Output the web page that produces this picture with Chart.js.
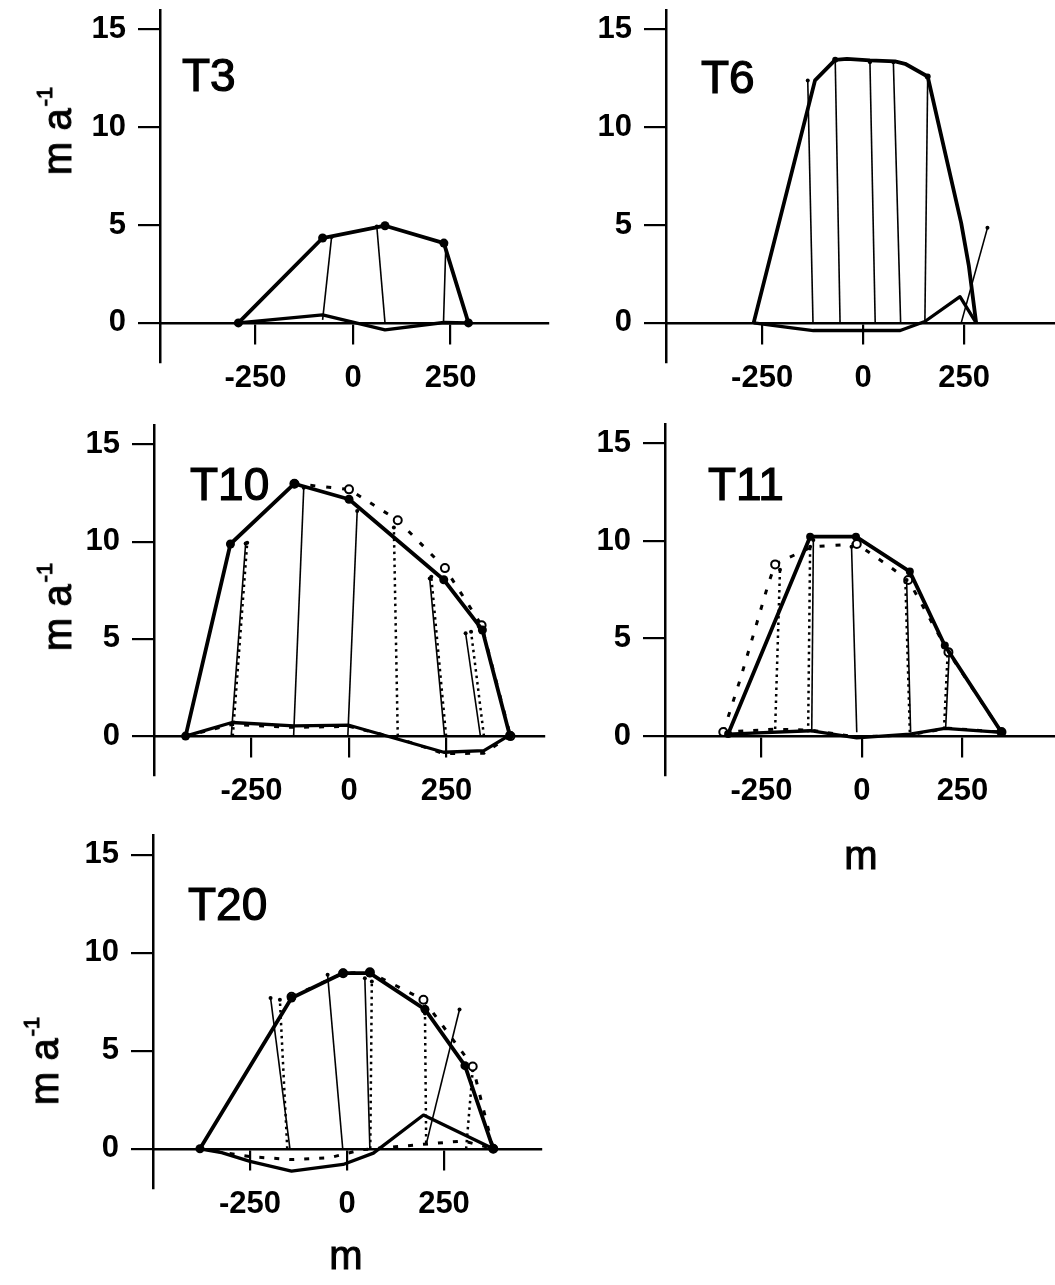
<!DOCTYPE html>
<html><head><meta charset="utf-8">
<script src="https://cdn.jsdelivr.net/npm/chart.js@4.4.1/dist/chart.umd.min.js"></script>
<style>
html,body{margin:0;padding:0;background:#fff;width:1055px;height:1285px;overflow:hidden;position:relative;}
canvas{position:absolute;}
.lbl{position:absolute;font-family:"Liberation Sans",Arial,sans-serif;color:#000;white-space:nowrap;line-height:1;}
.title{font-size:46px;-webkit-text-stroke:1.2px #000;}
.ylab{font-size:40px;-webkit-text-stroke:1px #000;transform:translate(-50%,-50%) rotate(-90deg);}
.xlab{font-size:40px;-webkit-text-stroke:1px #000;transform:translate(-50%,-50%);}
.sup{font-size:0.55em;position:relative;top:-0.85em;margin-left:2px;}
</style>
</head><body>
<canvas id="c3"></canvas><canvas id="c6"></canvas><canvas id="c10"></canvas><canvas id="c11"></canvas><canvas id="c20"></canvas>
<div class="lbl title" style="left:182px;top:52px">T3</div>
<div class="lbl title" style="left:701px;top:54px">T6</div>
<div class="lbl title" style="left:190px;top:461px">T10</div>
<div class="lbl title" style="left:708px;top:461px">T11</div>
<div class="lbl title" style="left:188px;top:881px">T20</div>
<div class="lbl ylab" style="left:57px;top:131px">m a<span class="sup">-1</span></div>
<div class="lbl ylab" style="left:57px;top:607px">m a<span class="sup">-1</span></div>
<div class="lbl ylab" style="left:44px;top:1061px">m a<span class="sup">-1</span></div>
<div class="lbl xlab" style="left:861px;top:855px">m</div>
<div class="lbl xlab" style="left:346px;top:1255px">m</div>
<script>
// ---------- tick values ----------
const yTickValues = [0, 5, 10, 15];
const xTickValues = [-250, 0, 250];

// ---------- T3 ----------
const t3SurfX = [-294, -78, 82, 233, 296];
const t3SurfY = [0, 4.34, 4.97, 4.08, 0];
const t3BedX = [-294, -78, 82, 233, 296];
const t3BedY = [0, 0.41, -0.36, 0.02, 0];
const t3VecX0 = [-78, 82, 232];
const t3VecY0 = [0.15, 0, 0];
const t3VecX1 = [-55, 61, 238];
const t3VecY1 = [4.39, 4.93, 4.0];

// ---------- T6 ----------
const t6SurfX = [-271, -119, -69, -40, 17, 79, 104, 160, 243, 262, 280];
const t6SurfY = [0, 12.4, 13.45, 13.5, 13.42, 13.37, 13.25, 12.6, 5.1, 2.9, 0];
const t6SurfMark = [0, 0, 1, 0, 0, 0, 0, 1, 0, 0, 0];
const t6BedX = [-271, -172, -123, 92, 153, 240, 280];
const t6BedY = [0, -0.27, -0.39, -0.39, 0.07, 1.34, 0];
const t6VecX0 = [-124, -57, 30, 93, 153, 243];
const t6VecY0 = [0, 0, 0, 0, 0, 0];
const t6VecX1 = [-137, -69, 17, 75, 160, 308];
const t6VecY1 = [12.4, 13.45, 13.33, 13.33, 12.6, 4.86];

// ---------- T10 ----------
const t10SurfX = [-419, -304, -140, 0, 243, 342, 412];
const t10SurfY = [0, 9.88, 12.98, 12.18, 8.04, 5.46, 0.05];
const t10Surf2X = [-140, 0, 125, 246, 340, 414];
const t10Surf2Y = [12.98, 12.69, 11.1, 8.64, 5.7, 0];
const t10BedX = [-419, -300, -141, 0, 124, 243, 346, 412];
const t10BedY = [0, 0.7, 0.53, 0.56, -0.15, -0.83, -0.75, 0.05];
const t10Bed2X = [-419, -300, -141, 0, 124, 243, 346, 412];
const t10Bed2Y = [0, 0.6, 0.45, 0.5, -0.1, -0.9, -0.88, 0];
const t10VecX0 = [-302, -142, -3, 245, 337];
const t10VecY0 = [0, 0, 0, 0, 0];
const t10VecX1 = [-265, -116, 21, 207, 299];
const t10VecY1 = [9.91, 12.77, 11.58, 8.1, 5.29];
const t10Vec2X0 = [-298, 125, 249, 346];
const t10Vec2Y0 = [0, 0, 0, 0];
const t10Vec2X1 = [-261, 115, 211, 313];
const t10Vec2Y1 = [9.95, 10.73, 8.2, 5.37];

// ---------- T11 ----------
const t11SurfX = [-333, -129, -15, 119, 206, 347];
const t11SurfY = [0.1, 10.22, 10.22, 8.43, 4.64, 0.19];
const t11Surf2X = [-345, -303, -270, -233, -216, -187, -125, -13, 61, 115, 215, 347];
const t11Surf2Y = [0.2, 2.9, 5.2, 7.8, 8.8, 9.1, 9.7, 9.85, 8.8, 8.0, 4.3, 0.2];
const t11Surf2Mark = [1, 0, 0, 0, 1, 0, 0, 1, 0, 1, 1, 1];
const t11BedX = [-333, -129, -13, 119, 206, 347];
const t11BedY = [0.1, 0.27, -0.1, 0.1, 0.39, 0.19];
const t11Bed2X = [-345, -216, -125, -13, 115, 215, 347];
const t11Bed2Y = [0.2, 0.35, 0.3, -0.05, 0.05, 0.4, 0.2];
const t11VecX0 = [-125, -13, 121, 208];
const t11VecY0 = [0.19, 0.19, 0.19, 0.36];
const t11VecX1 = [-121, -26, 111, 217];
const t11VecY1 = [10.05, 9.71, 8.0, 4.3];
const t11Vec2X0 = [-216, -134, 119, 204];
const t11Vec2Y0 = [0.36, 0.19, 0.19, 0.36];
const t11Vec2X1 = [-204, -129, 108, 213];
const t11Vec2Y1 = [8.52, 9.7, 7.9, 4.2];

// ---------- T20 ----------
const t20SurfX = [-379, -143, -10, 59, 201, 304, 377];
const t20SurfY = [0, 7.69, 8.96, 8.96, 7.11, 4.24, 0];
const t20Surf2X = [-143, -10, 59, 197, 324, 377];
const t20Surf2Y = [7.75, 8.95, 9.0, 7.6, 4.2, 0];
const t20BedX = [-379, -323, -250, -143, -10, 68, 197, 377];
const t20BedY = [0, -0.2, -0.64, -1.14, -0.8, -0.22, 1.72, 0];
const t20Bed2X = [-379, -250, -143, -44, 38, 124, 210, 300, 377];
const t20Bed2Y = [0, -0.4, -0.55, -0.45, -0.05, 0.1, 0.25, 0.4, 0];
const t20VecX0 = [-147, -11, 59, 205];
const t20VecY0 = [0, 0, 0, 0.3];
const t20VecX1 = [-197, -50, 46, 290];
const t20VecY1 = [7.69, 8.88, 8.7, 7.1];
const t20Vec2X0 = [-154, 60, 204, 307];
const t20Vec2Y0 = [0, 0, 0.3, 0];
const t20Vec2X1 = [-173, 64, 201, 324];
const t20Vec2Y1 = [7.6, 8.53, 6.9, 4.0];

// ---------- drawing helpers ----------
const FONT = '"Liberation Sans", Arial, sans-serif';
const WY = 90, PADT = 40, PADB = 70, PADR = 10;

function pts(xs, ys) { return xs.map((x, i) => ({ x: x, y: ys[i] })); }
function lineSet(xs, ys, opt) {
  return Object.assign({
    data: pts(xs, ys), showLine: true, borderColor: '#000', backgroundColor: '#000',
    fill: false, tension: 0, pointRadius: 0, pointHoverRadius: 0, borderCapStyle: 'butt',
    borderJoinStyle: 'round', pointBorderWidth: 0
  }, opt);
}
function vecSets(x0, y0, x1, y1, opt) {
  return x0.map((_, i) => lineSet([x0[i], x1[i]], [y0[i], y1[i]], Object.assign({
    pointRadius: (c) => c.dataIndex === 1 ? 2 : 0, pointBackgroundColor: '#000'
  }, opt)));
}
function markR(mark, r) { return mark ? (c) => (mark[c.dataIndex] ? r : 0) : r; }

function surfSolid(xs, ys, r, mark) {
  return lineSet(xs, ys, { borderWidth: 3.8, pointRadius: markR(mark, r), pointBackgroundColor: '#000' });
}
function surfDotted(xs, ys, mark) {
  return lineSet(xs, ys, {
    borderWidth: 3, borderDash: [5, 11], pointRadius: markR(mark, 4),
    pointBackgroundColor: '#fff', pointBorderColor: '#000', pointBorderWidth: 2
  });
}
function bedSolid(xs, ys) { return lineSet(xs, ys, { borderWidth: 3.3 }); }
function bedDotted(xs, ys) { return lineSet(xs, ys, { borderWidth: 3, borderDash: [5, 10] }); }
function vecSolid(a, b, c, d) { return vecSets(a, b, c, d, { borderWidth: 1.6 }); }
function vecDotted(a, b, c, d) { return vecSets(a, b, c, d, { borderWidth: 2.5, borderDash: [2.5, 4] }); }

function buildPanel(id, g, datasets) {
  const cv = document.getElementById(id);
  const W = WY + (g.right - g.axisX) + PADR;
  const H = PADT + (g.bottom - g.top) + PADB;
  cv.width = W; cv.height = H;
  cv.style.width = W + 'px'; cv.style.height = H + 'px';
  cv.style.left = (g.axisX - WY) + 'px'; cv.style.top = (g.top - PADT) + 'px';
  const axisGrid = (len) => ({ display: true, drawOnChartArea: false, drawTicks: true, tickLength: len, color: '#000', lineWidth: 2.2 });
  new Chart(cv, {
    type: 'scatter',
    data: { datasets: datasets },
    options: {
      responsive: false, animation: false, devicePixelRatio: 1,
      layout: { padding: { left: 0, top: PADT, right: PADR, bottom: PADB } },
      plugins: { legend: { display: false }, tooltip: { enabled: false }, title: { display: false } },
      events: [],
      scales: {
        x: {
          type: 'linear', position: { y: 0 }, min: g.xmin, max: g.xmax,
          afterBuildTicks: (s) => { s.ticks = xTickValues.map(v => ({ value: v })); },
          grid: axisGrid(20),
          border: { display: true, color: '#000', width: 2.5 },
          ticks: { font: { family: FONT, size: 31, weight: 'bold' }, color: '#000', padding: 17, maxRotation: 0, autoSkip: false }
        },
        y: {
          type: 'linear', position: 'left', min: -2, max: 16,
          afterBuildTicks: (s) => { s.ticks = yTickValues.map(v => ({ value: v })); },
          afterFit: (s) => { s.width = WY; },
          grid: axisGrid(22),
          border: { display: true, color: '#000', width: 2.5 },
          ticks: { font: { family: FONT, size: 31, weight: 'bold' }, color: '#000', padding: 12, autoSkip: false }
        }
      }
    }
  });
}

buildPanel('c3', { axisX: 160, right: 548, top: 10, bottom: 362, xmin: -495, xmax: 500 }, [
  surfSolid(t3SurfX, t3SurfY, 4.5),
  bedSolid(t3BedX, t3BedY),
  ...vecSolid(t3VecX0, t3VecY0, t3VecX1, t3VecY1)
]);
buildPanel('c6', { axisX: 666, right: 1065, top: 10, bottom: 362, xmin: -488, xmax: 500 }, [
  surfSolid(t6SurfX, t6SurfY, 3, t6SurfMark),
  bedSolid(t6BedX, t6BedY),
  ...vecSolid(t6VecX0, t6VecY0, t6VecX1, t6VecY1)
]);
buildPanel('c10', { axisX: 154, right: 544, top: 425, bottom: 775, xmin: -500, xmax: 500 }, [
  surfSolid(t10SurfX, t10SurfY, 4.5),
  bedSolid(t10BedX, t10BedY),
  ...vecSolid(t10VecX0, t10VecY0, t10VecX1, t10VecY1),
  surfDotted(t10Surf2X, t10Surf2Y),
  bedDotted(t10Bed2X, t10Bed2Y),
  ...vecDotted(t10Vec2X0, t10Vec2Y0, t10Vec2X1, t10Vec2Y1)
]);
buildPanel('c11', { axisX: 665, right: 1063, top: 424, bottom: 775, xmin: -490, xmax: 500 }, [
  surfSolid(t11SurfX, t11SurfY, 4),
  bedSolid(t11BedX, t11BedY),
  ...vecSolid(t11VecX0, t11VecY0, t11VecX1, t11VecY1),
  surfDotted(t11Surf2X, t11Surf2Y, t11Surf2Mark),
  bedDotted(t11Bed2X, t11Bed2Y),
  ...vecDotted(t11Vec2X0, t11Vec2Y0, t11Vec2X1, t11Vec2Y1)
]);
buildPanel('c20', { axisX: 153, right: 541, top: 835, bottom: 1188, xmin: -500, xmax: 500 }, [
  surfSolid(t20SurfX, t20SurfY, 4.5),
  bedSolid(t20BedX, t20BedY),
  ...vecSolid(t20VecX0, t20VecY0, t20VecX1, t20VecY1),
  surfDotted(t20Surf2X, t20Surf2Y),
  bedDotted(t20Bed2X, t20Bed2Y),
  ...vecDotted(t20Vec2X0, t20Vec2Y0, t20Vec2X1, t20Vec2Y1)
]);
</script>
</body></html>
